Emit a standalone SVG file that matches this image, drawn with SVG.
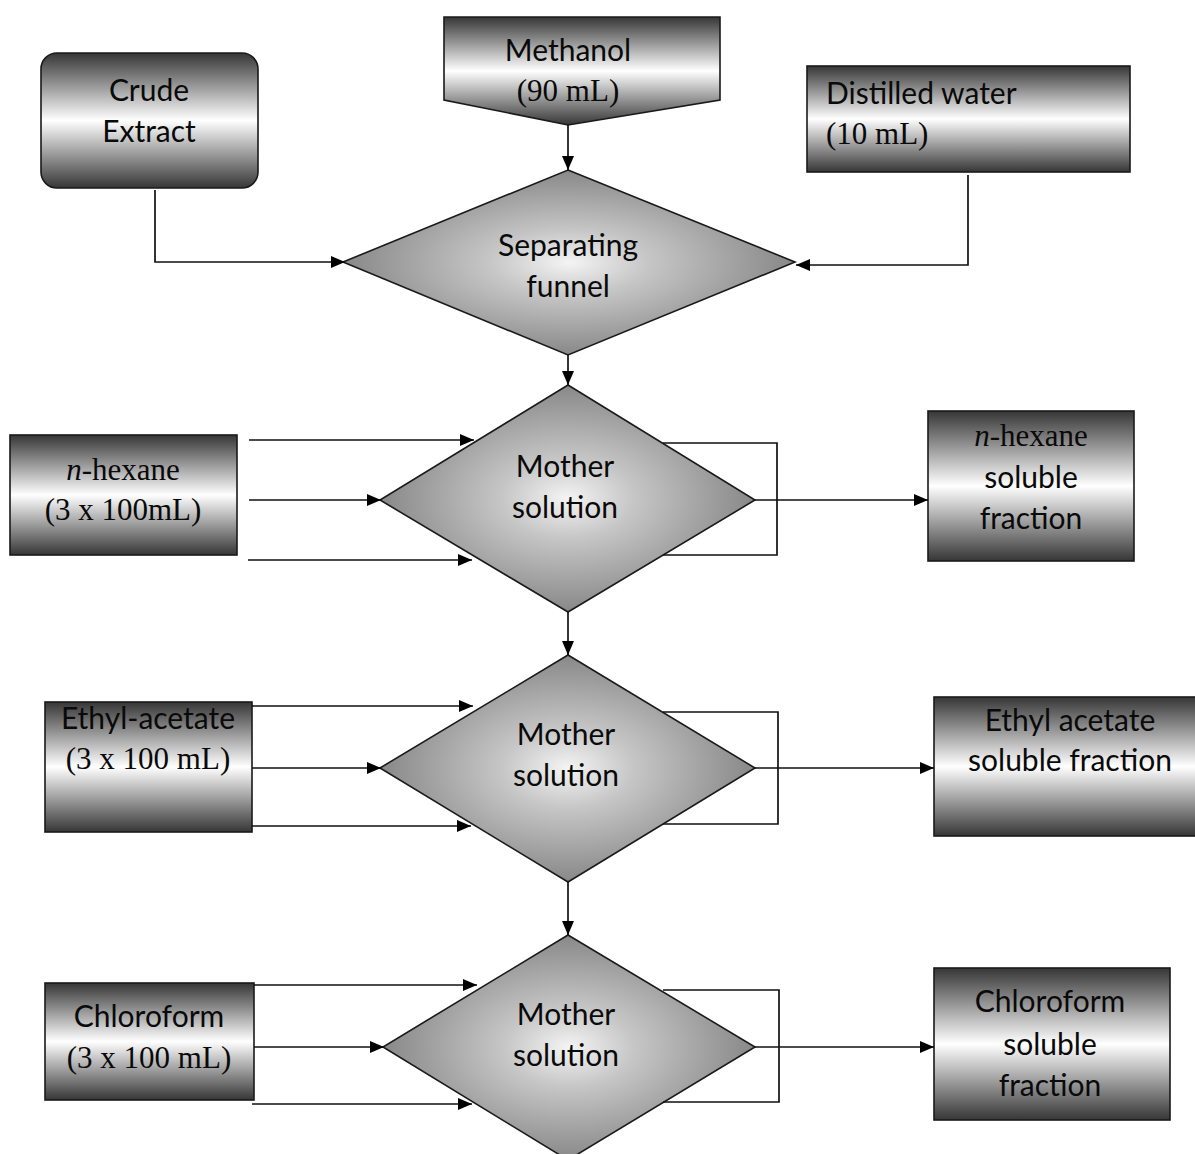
<svg xmlns="http://www.w3.org/2000/svg" width="1195" height="1154" viewBox="0 0 1195 1154">
<defs>
<linearGradient id="boxg" x1="0" y1="0" x2="0" y2="1">
<stop offset="0" stop-color="#363636"/>
<stop offset="0.5" stop-color="#ffffff"/>
<stop offset="1" stop-color="#363636"/>
</linearGradient>
<radialGradient id="dg" cx="0.5" cy="0.5" r="0.5">
<stop offset="0" stop-color="#f4f4f4"/>
<stop offset="0.35" stop-color="#c6c6c6"/>
<stop offset="1" stop-color="#888888"/>
</radialGradient>
<marker id="ar" viewBox="0 0 14 12" refX="14" refY="6" markerWidth="14" markerHeight="12" markerUnits="userSpaceOnUse" orient="auto">
<path d="M0,0 L14,6 L0,12 z" fill="#000"/>
</marker>
</defs>
<style>
.box{fill:url(#boxg);stroke:#1a1a1a;stroke-width:1.6}
.dia{fill:url(#dg);stroke:#1a1a1a;stroke-width:1.6}
.s{font-family:Lato,"Open Sans","Liberation Sans",sans-serif;font-size:30px;fill:#0a0a0a;text-anchor:middle}
.r{font-family:"Liberation Serif","DejaVu Serif",serif;font-size:31px;fill:#0a0a0a;text-anchor:middle}
.ln{fill:none;stroke:#111;stroke-width:1.7}
.la{fill:none;stroke:#111;stroke-width:1.7;marker-end:url(#ar)}
</style>

<g id="crude">
<rect class="box" x="41" y="53" width="217" height="135" rx="16"/>
<text class="s" x="149" y="101">Crude</text>
<text class="s" x="149" y="142">Extract</text>
</g>

<g id="methanol">
<path class="box" d="M444,17 L720,17 L720,100 L568,125 L444,100 Z"/>
<text class="s" x="568" y="61">Methanol</text>
<text class="r" x="568" y="101">(90 mL)</text>
</g>

<g id="water">
<rect class="box" x="807" y="66" width="323" height="106"/>
<text class="s" x="826" y="104" style="text-anchor:start">Distilled water</text>
<text class="r" x="826" y="144" style="text-anchor:start">(10 mL)</text>
</g>

<g id="funnel">
<path class="dia" d="M568,170 L795,262 L568,355 L343,262 Z"/>
<text class="s" x="568" y="256">Separating</text>
<text class="s" x="568" y="297">funnel</text>
</g>

<g id="hexane">
<rect class="box" x="10" y="435" width="227" height="120"/>
<text class="r" x="123" y="480"><tspan font-style="italic">n</tspan>-hexane</text>
<text class="r" x="123" y="520">(3 x 100mL)</text>
</g>

<g id="mother1">
<path class="dia" d="M568,385 L755,500 L568,612 L380,500 Z"/>
<text class="s" x="565" y="477">Mother</text>
<text class="s" x="565" y="518">solution</text>
</g>

<g id="hexfrac">
<rect class="box" x="928" y="411" width="206" height="150"/>
<text class="r" x="1031" y="446"><tspan font-style="italic">n</tspan>-hexane</text>
<text class="s" x="1031" y="488">soluble</text>
<text class="s" x="1031" y="529">fraction</text>
</g>

<g id="ethyl">
<rect class="box" x="45" y="702" width="207" height="130"/>
<text class="s" x="148" y="729">Ethyl-acetate</text>
<text class="r" x="148" y="769">(3 x 100 mL)</text>
</g>

<g id="mother2">
<path class="dia" d="M568,655 L755,768 L568,882 L380,768 Z"/>
<text class="s" x="566" y="745">Mother</text>
<text class="s" x="566" y="786">solution</text>
</g>

<g id="ethylfrac">
<rect class="box" x="934" y="697" width="265" height="139"/>
<text class="s" x="1070" y="731">Ethyl acetate</text>
<text class="s" x="1070" y="771">soluble fraction</text>
</g>

<g id="chloro">
<rect class="box" x="45" y="983" width="209" height="117"/>
<text class="s" x="149" y="1027">Chloroform</text>
<text class="r" x="149" y="1068">(3 x 100 mL)</text>
</g>

<g id="mother3">
<path class="dia" d="M568,935 L755,1047 L568,1160 L383,1047 Z"/>
<text class="s" x="566" y="1025">Mother</text>
<text class="s" x="566" y="1066">solution</text>
</g>

<g id="chlorofrac">
<rect class="box" x="934" y="968" width="236" height="152"/>
<text class="s" x="1050" y="1012">Chloroform</text>
<text class="s" x="1050" y="1055">soluble</text>
<text class="s" x="1050" y="1096">fraction</text>
</g>

<g id="connectors">
<polyline class="la" points="155,190 155,262 345,262"/>
<line class="la" x1="568" y1="125" x2="568" y2="170"/>
<polyline class="la" points="968,175 968,265 796,265"/>
<line class="la" x1="568" y1="355" x2="568" y2="385"/>

<line class="la" x1="249" y1="440" x2="474" y2="440"/>
<line class="la" x1="249" y1="500" x2="381" y2="500"/>
<line class="la" x1="248" y1="560" x2="472" y2="560"/>
<polyline class="ln" points="663,443 777,443 777,555 663,555"/>
<line class="la" x1="755" y1="500" x2="928" y2="500"/>
<line class="la" x1="568" y1="612" x2="568" y2="655"/>

<line class="la" x1="252" y1="706" x2="473" y2="706"/>
<line class="la" x1="252" y1="768" x2="381" y2="768"/>
<line class="la" x1="252" y1="826" x2="471" y2="826"/>
<polyline class="ln" points="663,712 778,712 778,824 663,824"/>
<line class="la" x1="755" y1="768" x2="934" y2="768"/>
<line class="la" x1="568" y1="882" x2="568" y2="935"/>

<line class="la" x1="254" y1="985" x2="477" y2="985"/>
<line class="la" x1="254" y1="1047" x2="384" y2="1047"/>
<line class="la" x1="252" y1="1104" x2="472" y2="1104"/>
<polyline class="ln" points="663,990 779,990 779,1102 663,1102"/>
<line class="la" x1="755" y1="1047" x2="934" y2="1047"/>
</g>
</svg>
